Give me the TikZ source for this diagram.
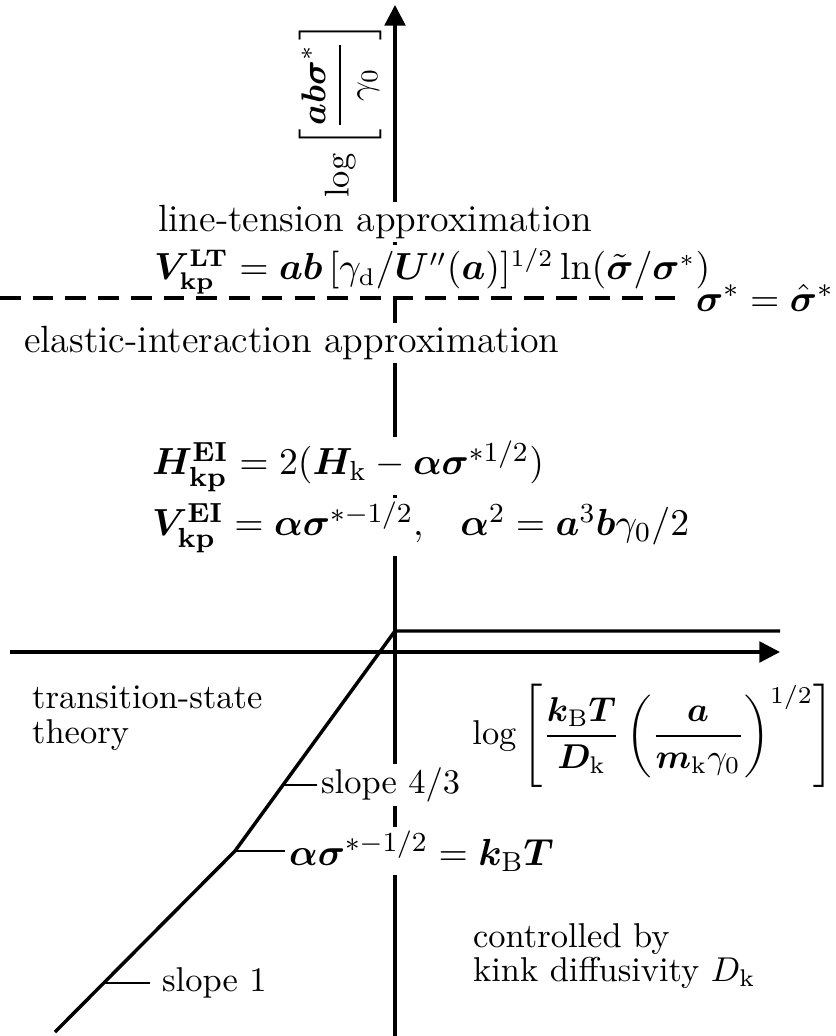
\documentclass[tikz,border=0pt]{standalone}
\usepackage{amsmath,amssymb}
\usepackage{bm}
\usetikzlibrary{arrows.meta}

\begin{document}
\begin{tikzpicture}[scale=1.02, >={Triangle[length=6pt,width=6pt]},
  lbl/.style={fill=white, inner sep=1pt},
  big/.style={font=\fontsize{11}{13}\selectfont},
  thickline/.style={line width=1pt}]
\useasboundingbox (-3.95,-3.84) rectangle (4.40,6.52);
% axes
\draw[thickline,->] (0,-3.84) -- (0,6.47);
\draw[thickline,->] (-3.85,0) -- (3.85,0);
% regime boundary
\coordinate (e0) at (-3.40,-3.80);
\coordinate (t1) at (-2.92,-3.31);
\coordinate (kink) at (-1.60,-1.99);
\coordinate (t43) at (-1.12,-1.33);
\coordinate (top) at (0,0.21);
\coordinate (e1) at (3.85,0.21);
\draw[thickline, line join=round] (e0) -- (kink) -- (top) -- (e1);
% upper half
\node[lbl, big] (lt) at (-0.20,4.30) {line-tension approximation};
\node[lbl, right, font=\fontsize{10.5}{12}\selectfont] (vlt) at (-2.45,3.81) {$\bm{V}^{\mathbf{LT}}_{\mathbf{kp}} = \bm{ab}\,[\gamma_{\mathrm d}/\bm{U}''(\bm{a})]^{1/2}\ln(\tilde{\bm{\sigma}}/\bm{\sigma}^*)$};
\node[lbl, big, right] (ei) at (-3.75,3.09) {elastic-interaction approximation};
\node[lbl, big, right] (hei) at (-2.47,1.86) {$\bm{H}^{\mathbf{EI}}_{\mathbf{kp}} = 2(\bm{H}_{\mathrm k}-\bm{\alpha\sigma}^{*1/2})$};
\node[lbl, big, right] (vei) at (-2.47,1.25) {$\bm{V}^{\mathbf{EI}}_{\mathbf{kp}} = \bm{\alpha\sigma}^{*-1/2},\hspace{0.8em}\bm{\alpha}^2 = \bm{a}^3\bm{b}\gamma_0/2$};
\node[right, inner xsep=3pt, big] (sig) at (2.90,3.54) {$\bm{\sigma}^*=\hat{\bm{\sigma}}^*$};
\coordinate (dl) at (-3.95,3.54);
\draw[thickline, dash pattern=on 6pt off 3.5pt] (dl) -- (sig.west);
% axis labels
\node[rotate=90] (yl) at (-0.55,5.42) {$\log\left[\dfrac{\bm{ab\sigma}^*}{\gamma_0}\right]$};
\node (xl) at (2.58,-0.84) {$\log\left[\dfrac{\bm{k}_{\mathrm B}\bm{T}}{\bm{D}_{\mathrm k}}\left(\dfrac{\bm{a}}{\bm{m}_{\mathrm k}\gamma_0}\right)^{1/2}\right]$};
% lower half
\node[right, align=left] (ts) at (-3.75,-0.66) {transition-state\\[-2pt]theory};
\node[right, align=left] (kd) at (0.66,-3.04) {controlled by\\[-2pt]kink diffusivity $D_{\mathrm k}$};
\node[lbl, right] (s43) at (-0.78,-1.33) {slope $4/3$};
\node[lbl, right, big] (sk) at (-1.10,-1.99) {$\bm{\alpha\sigma}^{*-1/2} = \bm{k}_{\mathrm B}\bm{T}$};
\node[right] (s1) at (-2.45,-3.31) {slope 1};
\draw[line width=0.5pt] (t43) -- (s43.west);
\draw[line width=0.5pt] (kink) -- (sk.west);
\draw[line width=0.5pt] (t1) -- (s1.west);
\end{tikzpicture}
\end{document}
